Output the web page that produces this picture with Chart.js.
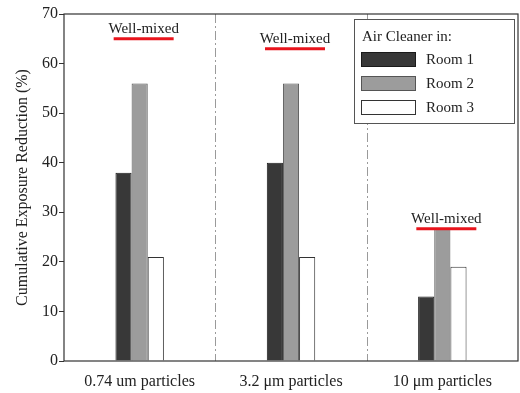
<!DOCTYPE html>
<html><head><meta charset="utf-8">
<script src="https://cdn.jsdelivr.net/npm/chart.js@4/dist/chart.umd.min.js"></script>
<style>html,body{margin:0;padding:0;background:#fff}#wrap{width:520px;height:393px}</style>
</head><body><div id="wrap"><canvas id="c" width="520" height="393"></canvas></div>
<script>
const categories = ["0.74 um particles", "3.2 \u03bcm particles", "10 \u03bcm particles"];
const room1 = [38, 40, 13];
const room2 = [56, 56, 26.7];
const room3 = [21, 21, 19];
const wellMixed = [65, 63, 26.7];
const seriesLabels = ["Room 1", "Room 2", "Room 3"];
const yTicks = [0, 10, 20, 30, 40, 50, 60, 70];
const legendTitle = "Air Cleaner in:";
const wellMixedLabel = "Well-mixed";
const FONT = "'Liberation Serif', 'Times New Roman', serif";

const extras = {
  id: 'extras',
  beforeDatasetsDraw(chart) {
    const {ctx, chartArea: a, scales: {x}} = chart;
    ctx.save();
    ctx.strokeStyle = '#9a9a9a';
    ctx.lineWidth = 1;
    ctx.setLineDash([9, 3, 2, 3]);
    for (let i = 0; i < categories.length - 1; i++) {
      const px = Math.round((x.getPixelForValue(i) + x.getPixelForValue(i + 1)) / 2) + 0.5;
      ctx.beginPath(); ctx.moveTo(px, a.top); ctx.lineTo(px, a.bottom); ctx.stroke();
    }
    ctx.restore();
  },
  afterDatasetsDraw(chart) {
    const {ctx, chartArea: a, scales: {x, y}} = chart;
    ctx.save();
    ctx.strokeStyle = '#333';
    ctx.lineWidth = 1.2;
    ctx.strokeRect(a.left, a.top, a.right - a.left, a.bottom - a.top);
    wellMixed.forEach((v, i) => {
      const cx = x.getPixelForValue(i) + 4;
      const py = y.getPixelForValue(v);
      ctx.strokeStyle = '#e8141c';
      ctx.lineWidth = 3;
      ctx.beginPath(); ctx.moveTo(cx - 30, py); ctx.lineTo(cx + 30, py); ctx.stroke();
      ctx.fillStyle = '#222';
      ctx.font = '15px ' + FONT;
      ctx.textAlign = 'center';
      ctx.textBaseline = 'alphabetic';
      ctx.fillText(wellMixedLabel, cx, py - 6);
    });
    const lx = 354, ly = 19, lw = 160, lh = 104;
    ctx.fillStyle = '#fff';
    ctx.fillRect(lx, ly, lw, lh);
    ctx.strokeStyle = '#555';
    ctx.lineWidth = 1;
    ctx.strokeRect(lx + 0.5, ly + 0.5, lw, lh);
    ctx.fillStyle = '#222';
    ctx.font = '15px ' + FONT;
    ctx.textAlign = 'left';
    ctx.textBaseline = 'middle';
    ctx.fillText(legendTitle, 362, 37);
    chart.data.datasets.forEach((ds, i) => {
      const yy = 52 + i * 24;
      ctx.fillStyle = ds.backgroundColor;
      ctx.fillRect(361, yy, 54, 14);
      ctx.strokeStyle = ds.borderColor;
      ctx.lineWidth = 1;
      ctx.strokeRect(361.5, yy + 0.5, 54, 14);
      ctx.fillStyle = '#222';
      ctx.fillText(ds.label, 426, yy + 8);
    });
    ctx.restore();
  }
};

new Chart(document.getElementById('c'), {
  type: 'bar',
  data: {
    labels: categories,
    datasets: [
      {label: seriesLabels[0], data: room1, backgroundColor: '#383838', borderColor: '#1a1a1a', borderWidth: 1},
      {label: seriesLabels[1], data: room2, backgroundColor: '#9c9c9c', borderColor: '#555', borderWidth: 1},
      {label: seriesLabels[2], data: room3, backgroundColor: '#ffffff', borderColor: '#333', borderWidth: 1}
    ]
  },
  options: {
    responsive: false,
    animation: false,
    devicePixelRatio: 1,
    layout: {padding: {left: 13, right: 2, top: 14, bottom: 0}},
    datasets: {bar: {barPercentage: 1, categoryPercentage: 0.32}},
    plugins: {legend: {display: false}, tooltip: {enabled: false}},
    scales: {
      x: {
        grid: {display: false},
        border: {display: false},
        ticks: {color: '#222', font: {family: FONT, size: 16}, padding: 3, maxRotation: 0},
        afterFit(s) { s.height = 32; }
      },
      y: {
        min: 0, max: 70,
        afterBuildTicks(s) { s.ticks = yTicks.map(v => ({value: v})); },
        grid: {drawOnChartArea: false, tickLength: 5, color: '#333'},
        border: {display: false},
        ticks: {color: '#222', font: {family: FONT, size: 16}, padding: 1},
        title: {display: true, text: 'Cumulative Exposure Reduction (%)', color: '#222', font: {family: FONT, size: 16}, padding: {top: 0, bottom: 4}},
        afterFit(s) { s.width = 51; }
      }
    }
  },
  plugins: [extras]
});
</script></body></html>
